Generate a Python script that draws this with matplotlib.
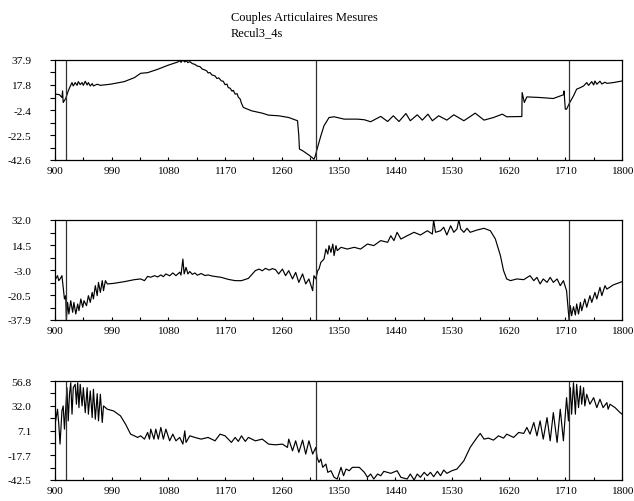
import matplotlib
matplotlib.use("Agg")
import matplotlib.pyplot as plt
import numpy as np

plt.rcParams['font.family'] = ['Liberation Serif', 'DejaVu Serif']
plt.rcParams['font.size'] = 8.2

title_line1 = "Couples Articulaires Mesures"
title_line2 = "Recul3_4s"

x_ticks = [900, 990, 1080, 1170, 1260, 1350, 1440, 1530, 1620, 1710, 1800]
events = [917, 1315, 1716]

# ---- series 1 ----
s1_x = [901, 907, 911, 912, 913, 917, 921, 924, 927, 929, 932, 935, 937, 940, 943, 945, 948, 951, 953, 956,
        959, 961, 967, 972, 988, 1010, 1026, 1036, 1047, 1063, 1079, 1095, 1098, 1100, 1103, 1106, 1108, 1111,
        1114, 1118, 1122, 1126, 1130, 1134, 1138, 1141, 1143, 1146, 1149, 1154, 1157, 1160, 1164, 1167, 1170,
        1173, 1175, 1178, 1181, 1183, 1186, 1189, 1191, 1194, 1196, 1199, 1212, 1229, 1239, 1255, 1271, 1285,
        1287, 1288, 1293, 1303, 1309, 1311, 1313, 1316, 1322, 1327, 1335, 1343, 1359, 1380, 1391, 1401, 1417,
        1428, 1437, 1446, 1457, 1464, 1475, 1483, 1492, 1499, 1509, 1522, 1533, 1549, 1567, 1581, 1596, 1610,
        1617, 1641, 1641.5, 1645, 1649, 1670, 1691, 1707, 1708, 1710, 1712, 1717, 1723, 1728, 1734, 1739, 1744,
        1747, 1752, 1755, 1757, 1760, 1765, 1768, 1773, 1776, 1786, 1800]
s1_y = [10.4, 10.0, 7.7, 13.0, 3.7, 6.9, 13.0, 16.5, 19.7, 17.0, 19.7, 17.5, 20.5, 18.1, 19.7, 17.5, 20.8, 17.8,
        19.7, 17.0, 18.9, 17.0, 18.4, 17.5, 18.4, 20.5, 23.7, 27.2, 27.7, 30.4, 33.6, 36.3, 37.5, 36.0, 37.9,
        36.3, 37.4, 35.8, 36.6, 35.0, 34.4, 33.0, 32.6, 30.5, 29.9, 29.0, 27.5, 27.8, 25.9, 25.1, 23.0, 23.5,
        21.1, 20.8, 18.0, 18.5, 15.7, 15.2, 12.8, 13.5, 10.4, 10.8, 8.0, 6.4, 3.0, -0.3, -3.0, -4.9, -6.5, -7.0,
        -8.4, -11.0, -23.1, -33.8, -35.1, -38.6, -41.0, -42.0, -39.6, -33.8, -23.1, -15.0, -8.4, -7.8, -9.7,
        -9.7, -10.2, -11.8, -7.5, -11.6, -7.0, -11.6, -5.2, -11.0, -6.2, -10.5, -5.7, -11.0, -7.0, -10.5, -6.2,
        -11.0, -4.9, -10.5, -8.4, -5.7, -7.8, -7.6, 11.7, 3.7, 8.2, 7.7, 6.9, 9.9, 13.0, -1.7, -1.7, 3.6, 9.0,
        14.4, 15.7, 17.0, 19.7, 17.5, 20.5, 17.8, 21.0, 18.4, 20.8, 18.6, 20.0, 19.1, 19.7, 21.0]
s1_ticks = [-42.6, -22.5, -2.4, 17.8, 37.9]

# ---- series 2 ----
s2_x = [901, 904, 906, 908, 911, 913, 915, 917, 918, 920, 922, 925, 928, 930, 933, 936, 938, 941, 944, 946,
        950, 953, 956, 959, 961, 964, 967, 969, 972, 975, 977, 980, 983, 993, 1010, 1026, 1036, 1042, 1047,
        1052, 1058, 1063, 1068, 1072, 1076, 1082, 1087, 1092, 1098, 1100, 1103, 1105, 1108, 1111, 1114, 1118,
        1122, 1126, 1132, 1138, 1143, 1150, 1164, 1175, 1186, 1196, 1207, 1218, 1224, 1229, 1234, 1240, 1245,
        1250, 1255, 1261, 1266, 1271, 1277, 1282, 1287, 1293, 1298, 1303, 1309, 1311, 1314, 1317, 1319, 1322,
        1327, 1330, 1333, 1335, 1338, 1341, 1343, 1346, 1348, 1354, 1364, 1375, 1385, 1396, 1406, 1417, 1428,
        1433, 1438, 1443, 1449, 1459, 1470, 1480, 1491, 1499, 1501, 1504, 1512, 1517, 1522, 1528, 1533, 1538,
        1541, 1544, 1549, 1554, 1559, 1570, 1581, 1591, 1599, 1607, 1612, 1617, 1623, 1633, 1644, 1654, 1660,
        1665, 1670, 1675, 1681, 1686, 1691, 1697, 1702, 1707, 1712, 1716, 1718, 1720, 1723, 1726, 1728, 1731,
        1734, 1736, 1741, 1744, 1749, 1752, 1757, 1760, 1765, 1768, 1773, 1776, 1786, 1800]
s2_y = [-9.2, -6.9, -10.4, -9.2, -6.9, -15.1, -23.2, -20.9, -37.9, -25.6, -33.7, -24.4, -32.5, -25.6, -33.7,
        -26.7, -31.4, -23.2, -29.0, -24.4, -27.9, -20.9, -25.6, -18.6, -23.2, -13.9, -20.9, -11.6, -18.6, -10.4,
        -17.4, -10.4, -12.7, -12.3, -11.1, -9.7, -9.2, -10.4, -7.4, -8.0, -6.9, -7.8, -6.4, -7.6, -5.7, -7.0,
        -5.0, -6.9, -4.5, -6.5, 4.7, -5.7, -1.1, -5.7, -4.0, -6.0, -5.0, -6.6, -5.4, -6.8, -6.4, -7.2, -8.1,
        -9.5, -10.4, -10.4, -8.8, -3.4, -2.3, -3.5, -1.8, -3.0, -2.0, -2.7, -5.7, -2.3, -6.9, -3.4, -9.2, -4.6,
        -11.6, -5.7, -12.7, -9.2, -17.4, -6.9, -9.2, -3.4, -2.3, 2.4, 4.7, 11.7, 8.2, 14.1, 9.4, 15.2, 7.1,
        14.1, 10.6, 12.9, 11.7, 12.9, 11.7, 15.2, 14.1, 17.6, 16.4, 21.0, 17.6, 23.4, 18.7, 21.0, 23.4, 21.5,
        24.5, 22.2, 32.0, 23.4, 24.5, 26.9, 21.5, 28.0, 23.4, 25.7, 32.0, 25.7, 23.4, 26.2, 23.4, 25.0, 26.2,
        24.5, 18.7, 7.1, -3.4, -9.2, -10.4, -9.2, -9.7, -6.9, -10.4, -8.1, -12.7, -9.2, -11.6, -8.1, -11.6,
        -9.2, -13.9, -10.4, -17.4, -37.9, -27.9, -34.9, -28.6, -34.4, -26.7, -33.7, -25.6, -31.4, -23.2, -29.0,
        -20.9, -25.6, -18.6, -23.2, -15.1, -20.9, -13.9, -16.3, -13.4, -11.1]
s2_ticks = [-37.9, -20.5, -3.0, 14.5, 32.0]

# ---- series 3 ----
s3_x = [901, 904, 906, 908, 911, 913, 915, 917, 919, 921, 923, 925, 927, 929, 932, 934, 936, 938, 940, 943,
        945, 948, 951, 953, 956, 959, 961, 964, 967, 969, 972, 975, 977, 980, 983, 993, 1004, 1012, 1020, 1026,
        1031, 1036, 1042, 1047, 1050, 1052, 1057, 1060, 1064, 1068, 1072, 1076, 1082, 1087, 1092, 1098, 1103,
        1106, 1108, 1114, 1122, 1132, 1143, 1154, 1162, 1170, 1180, 1186, 1191, 1196, 1202, 1207, 1218, 1229,
        1239, 1250, 1261, 1269, 1271, 1277, 1282, 1287, 1293, 1298, 1303, 1309, 1314, 1316, 1319, 1322, 1325,
        1330, 1333, 1338, 1343, 1348, 1354, 1358, 1362, 1367, 1372, 1383, 1391, 1396, 1401, 1406, 1412, 1417,
        1422, 1433, 1443, 1449, 1459, 1464, 1470, 1475, 1480, 1486, 1491, 1496, 1501, 1507, 1512, 1517, 1522,
        1530, 1538, 1549, 1559, 1570, 1575, 1581, 1588, 1596, 1604, 1612, 1617, 1628, 1636, 1644, 1649, 1654,
        1660, 1665, 1670, 1675, 1681, 1686, 1691, 1697, 1702, 1707, 1712, 1715, 1718, 1720, 1723, 1726, 1728,
        1731, 1734, 1736, 1739, 1741, 1744, 1749, 1755, 1760, 1765, 1770, 1776, 1778, 1781, 1789, 1797, 1800]
s3_y = [16.8, 28.5, 13.5, -6.5, 26.8, 31.8, 8.5, 30.1, 50.1, 16.8, 43.5, 55.1, 23.5, 50.1, 53.5, 33.5, 55.1,
        30.1, 53.5, 31.8, 50.1, 25.1, 50.1, 23.5, 46.8, 20.1, 48.5, 18.5, 44.1, 16.8, 43.5, 15.2, 31.8, 30.1,
        28.5, 26.8, 21.8, 13.5, 3.5, 1.8, 0.2, 1.8, -1.5, 5.2, -1.5, 8.5, -1.5, 8.5, -1.5, 10.2, -1.5, 8.5,
        -3.2, 3.5, -3.2, 0.2, -6.5, 6.8, -4.8, 1.8, 0.2, -1.5, 0.2, -3.2, 3.5, 1.8, -4.8, 0.2, -3.8, 1.8, -3.8,
        0.2, -3.2, -1.5, -6.5, -7.2, -6.5, -9.8, -1.5, -13.2, -3.2, -14.8, -2.5, -16.5, -3.2, -16.5, -9.8,
        -19.8, -24.8, -21.5, -29.8, -26.5, -34.8, -33.2, -39.8, -41.5, -29.8, -38.2, -31.5, -33.2, -29.8, -29.8,
        -34.8, -39.8, -36.5, -41.5, -36.5, -38.2, -33.8, -35.8, -33.2, -39.8, -41.5, -36.5, -42.5, -36.5, -39.8,
        -34.8, -38.2, -34.8, -39.2, -33.8, -38.2, -32.5, -35.8, -33.2, -31.5, -23.2, -9.8, 0.2, 4.2, -1.5, -0.5,
        -2.5, 1.8, -0.5, 3.5, 0.2, 5.2, 4.2, 10.2, 3.5, 15.2, 1.8, 16.8, -1.5, 20.1, -3.2, 25.1, -4.8, 28.5,
        -3.2, 40.1, 16.8, 50.1, 23.5, 55.1, 23.5, 53.5, 30.1, 51.8, 33.5, 50.1, 31.8, 43.5, 33.5, 40.1, 30.1,
        38.5, 30.1, 35.1, 28.5, 33.5, 30.1, 25.1, 23.5]
s3_ticks = [-42.5, -17.7, 7.1, 32.0, 56.8]

W, H = 634, 502
fig = plt.figure(figsize=(W / 100, H / 100), dpi=100)

panels = [
    (s1_x, s1_y, s1_ticks, (55, 61, 622, 161)),
    (s2_x, s2_y, s2_ticks, (55, 221, 622, 321)),
    (s3_x, s3_y, s3_ticks, (55, 382, 622, 481)),
]

for xs, ys, yt, (l, t, r, b) in panels:
    ax = fig.add_axes([l / W, 1 - b / H, (r - l) / W, (b - t) / H])
    ax.plot(xs, ys, color='black', lw=0.85)
    for e in events:
        ax.axvline(e, color='#333333', lw=0.9)
    ax.set_xlim(x_ticks[0], x_ticks[-1])
    ax.set_ylim(yt[0], yt[-1])
    ax.set_xticks(x_ticks)
    ax.set_xticklabels([str(v) for v in x_ticks])
    ax.set_xticks([(a + c) / 2 for a, c in zip(x_ticks[:-1], x_ticks[1:])], minor=True)
    ax.set_yticks(yt)
    ax.set_yticklabels([f"{v:.1f}" for v in yt])
    ax.set_yticks([(a + c) / 2 for a, c in zip(yt[:-1], yt[1:])], minor=True)
    ax.tick_params(axis='x', which='both', direction='in', length=2.5, width=0.8, pad=4.5)
    ax.tick_params(axis='y', which='both', direction='out', length=3.5, width=0.8, pad=13.5)
    for sp in ax.spines.values():
        sp.set_linewidth(0.9)

fig.text(231 / W, 1 - 18 / H, title_line1, ha='left', va='center', fontsize=8.9)
fig.text(231 / W, 1 - 33 / H, title_line2, ha='left', va='center', fontsize=8.9)

fig.savefig('out.png', dpi=100)
